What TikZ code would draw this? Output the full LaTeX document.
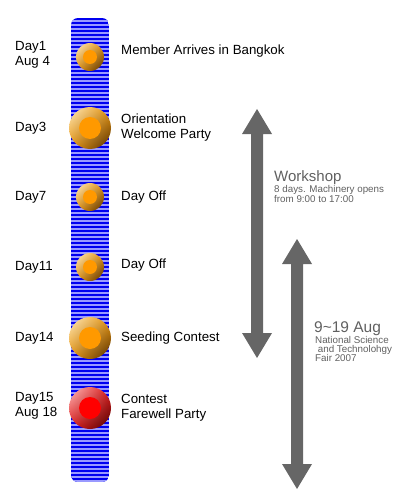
\documentclass[tikz,border=0pt]{standalone}
\usepackage{fontspec}
\setmainfont{Liberation Sans}
\usetikzlibrary{positioning,shadings}

\definecolor{barblue}{HTML}{0000F0}
\definecolor{barstripe}{HTML}{9A9AFF}
\definecolor{arrowgray}{HTML}{666666}
\definecolor{notegray}{HTML}{606060}
\definecolor{orangelight}{HTML}{FFEBC0}
\definecolor{orangemid}{HTML}{E8950C}
\definecolor{orangedark}{HTML}{4E2A00}
\definecolor{orangecore}{HTML}{FF9900}
\definecolor{redlight}{HTML}{FFC0C0}
\definecolor{redmid}{HTML}{E01818}
\definecolor{reddark}{HTML}{480000}
\definecolor{redcore}{HTML}{FF0000}

% block arrow with two heads: x, top tip, bottom tip
\newcommand{\spanarrow}[3]{%
  \fill[arrowgray] (#1,#2) -- (#1+15,#2+25) -- (#1+6,#2+25) -- (#1+6,#3-25)
    -- (#1+15,#3-25) -- (#1,#3) -- (#1-15,#3-25) -- (#1-6,#3-25)
    -- (#1-6,#2+25) -- (#1-15,#2+25) -- cycle;}

\begin{document}
\begin{tikzpicture}[x=1pt,y=-1pt,inner sep=0pt,
    daytext/.style={font=\fontsize{13.3}{15}\selectfont,align=left,anchor=west},
    bead/.style={circle,draw=none,upper left=orangelight,lower right=orangedark,
      upper right=orangemid,lower left=orangemid},
    redbead/.style={bead,upper left=redlight,lower right=reddark,
      upper right=redmid,lower left=redmid},
    smallbead/.style={bead,minimum size=28pt,
      path picture={\fill[orangecore] (path picture bounding box.center) circle (7pt);}},
    bigbead/.style={bead,minimum size=42pt,
      path picture={\fill[orangecore] (path picture bounding box.center) circle (11pt);}},
    bigred/.style={redbead,minimum size=42pt,
      path picture={\fill[redcore] (path picture bounding box.center) circle (11pt);}},
    note/.style={text=notegray,anchor=base west}]
  \useasboundingbox (0,0) rectangle (400,500);

  % striped time bar
  \begin{scope}
    \clip[rounded corners=7pt] (71,18) rectangle (109,482);
    \fill[barblue] (71,18) rectangle (109,482);
    \foreach \y in {20,24,...,480}
      \fill[barstripe] (71,\y) rectangle (109,\y+2);
  \end{scope}

  % days
  \node[smallbead] (d1)  at (90,57)  {};
  \node[bigbead]   (d3)  at (90,128) {};
  \node[smallbead] (d7)  at (90,197) {};
  \node[smallbead] (d11) at (90,267) {};
  \node[bigbead]   (d14) at (90,338) {};
  \node[bigred]    (d15) at (90,408) {};

  \node[daytext] (l1)  at (15,55)  {Day1\\Aug 4};
  \node[daytext] (l3)  at (15,128) {Day3};
  \node[daytext] (l7)  at (15,197) {Day7};
  \node[daytext] (l11) at (15,267) {Day11};
  \node[daytext] (l14) at (15,338) {Day14};
  \node[daytext] (l15) at (15,406) {Day15\\Aug 18};

  \node[daytext] (e1)  at (121,51)  {Member Arrives in Bangkok};
  \node[daytext] (e3)  at (121,128) {Orientation\\Welcome Party};
  \node[daytext] (e7)  at (121,197) {Day Off};
  \node[daytext] (e11) at (121,265) {Day Off};
  \node[daytext] (e14) at (121,338) {Seeding Contest};
  \node[daytext] (e15) at (121,408) {Contest\\Farewell Party};

  % ranges
  \spanarrow{257}{109}{358}
  \spanarrow{297}{239}{489}

  \node[note,font=\fontsize{15}{15}\selectfont] (ws) at (274,181.5) {Workshop};
  \node[note,font=\fontsize{9.8}{10}\selectfont] (ws1) at (274,192) {8 days. Machinery opens};
  \node[note,font=\fontsize{9.8}{10}\selectfont] (ws2) at (274,202) {from 9:00 to 17:00};

  \node[note,font=\fontsize{15.5}{16}\selectfont] (fair) at (314,332.5) {9\char`~19 Aug};
  \node[note,font=\fontsize{9.8}{10}\selectfont] (fair1) at (315,343) {National Science};
  \node[note,font=\fontsize{9.8}{10}\selectfont] (fair2) at (315,352.3) {\ and Technolohgy};
  \node[note,font=\fontsize{9.8}{10}\selectfont] (fair3) at (315,361.7) {Fair 2007};
\end{tikzpicture}
\end{document}
